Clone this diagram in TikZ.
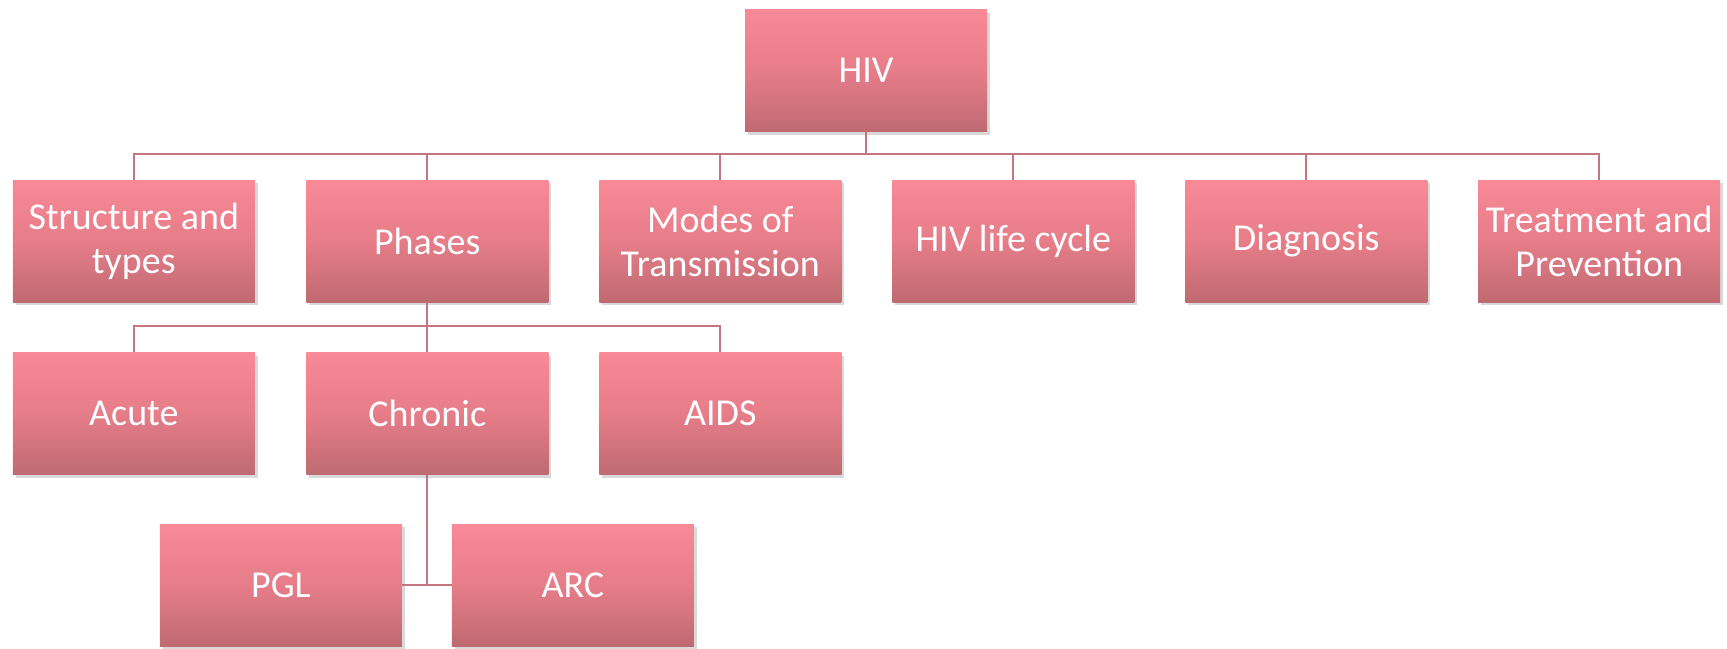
\documentclass[tikz,border=0pt]{standalone}
\usepackage{fontspec}
\setmainfont{Carlito}
\usetikzlibrary{shadows}
\definecolor{boxtop}{RGB}{249,137,151}
\definecolor{boxmid}{RGB}{230,125,137}
\definecolor{boxbot}{RGB}{191,106,114}
\definecolor{conncol}{RGB}{196,118,128}
\tikzset{
  hbox/.style={rectangle, minimum width=242pt, minimum height=122pt, inner sep=2pt,
    top color=boxtop, bottom color=boxbot, middle color=boxmid, draw=none, text=white, align=center,
    font=\fontsize{38}{44}\selectfont,
    drop shadow={opacity=0.25, shadow xshift=3pt, shadow yshift=-3pt, fill=black!60}},
  conn/.style={draw=conncol, line width=2pt}
}
\begin{document}
\begin{tikzpicture}[x=1pt,y=-1pt]
\useasboundingbox (0,0) rectangle (1727,648);
\coordinate (bus1) at (0,154);
\coordinate (bus2) at (0,326);
\node[hbox] (hiv) at (866,70.5) {HIV};
\node[hbox] (s1) at (133.8,241) {Structure and\\types};
\node[hbox] (s2) at (427.3,241) {Phases};
\node[hbox] (s3) at (720.3,241) {Modes of\\Transmission};
\node[hbox] (s4) at (1013.3,241) {HIV life cycle};
\node[hbox] (s5) at (1306.3,241) {Diagnosis};
\node[hbox] (s6) at (1599.2,241) {Treatment and\\Prevention};
\node[hbox] (acute) at (133.8,413.5) {Acute};
\node[hbox] (chronic) at (427.3,413.5) {Chronic};
\node[hbox] (aids) at (720.3,413.5) {AIDS};
\node[hbox] (pgl) at (280.9,585) {PGL};
\node[hbox] (arc) at (572.8,585) {ARC};
\foreach \c in {s1,s2,s3,s4,s5,s6}{
  \draw[conn] (hiv.south) -- (hiv.south |- bus1) -| (\c.north);
}
\foreach \c in {acute,chronic,aids}{
  \draw[conn] (s2.south) -- (s2.south |- bus2) -| (\c.north);
}
\draw[conn] (chronic.south) |- (pgl.east);
\draw[conn] (chronic.south) |- (arc.west);
\end{tikzpicture}
\end{document}
